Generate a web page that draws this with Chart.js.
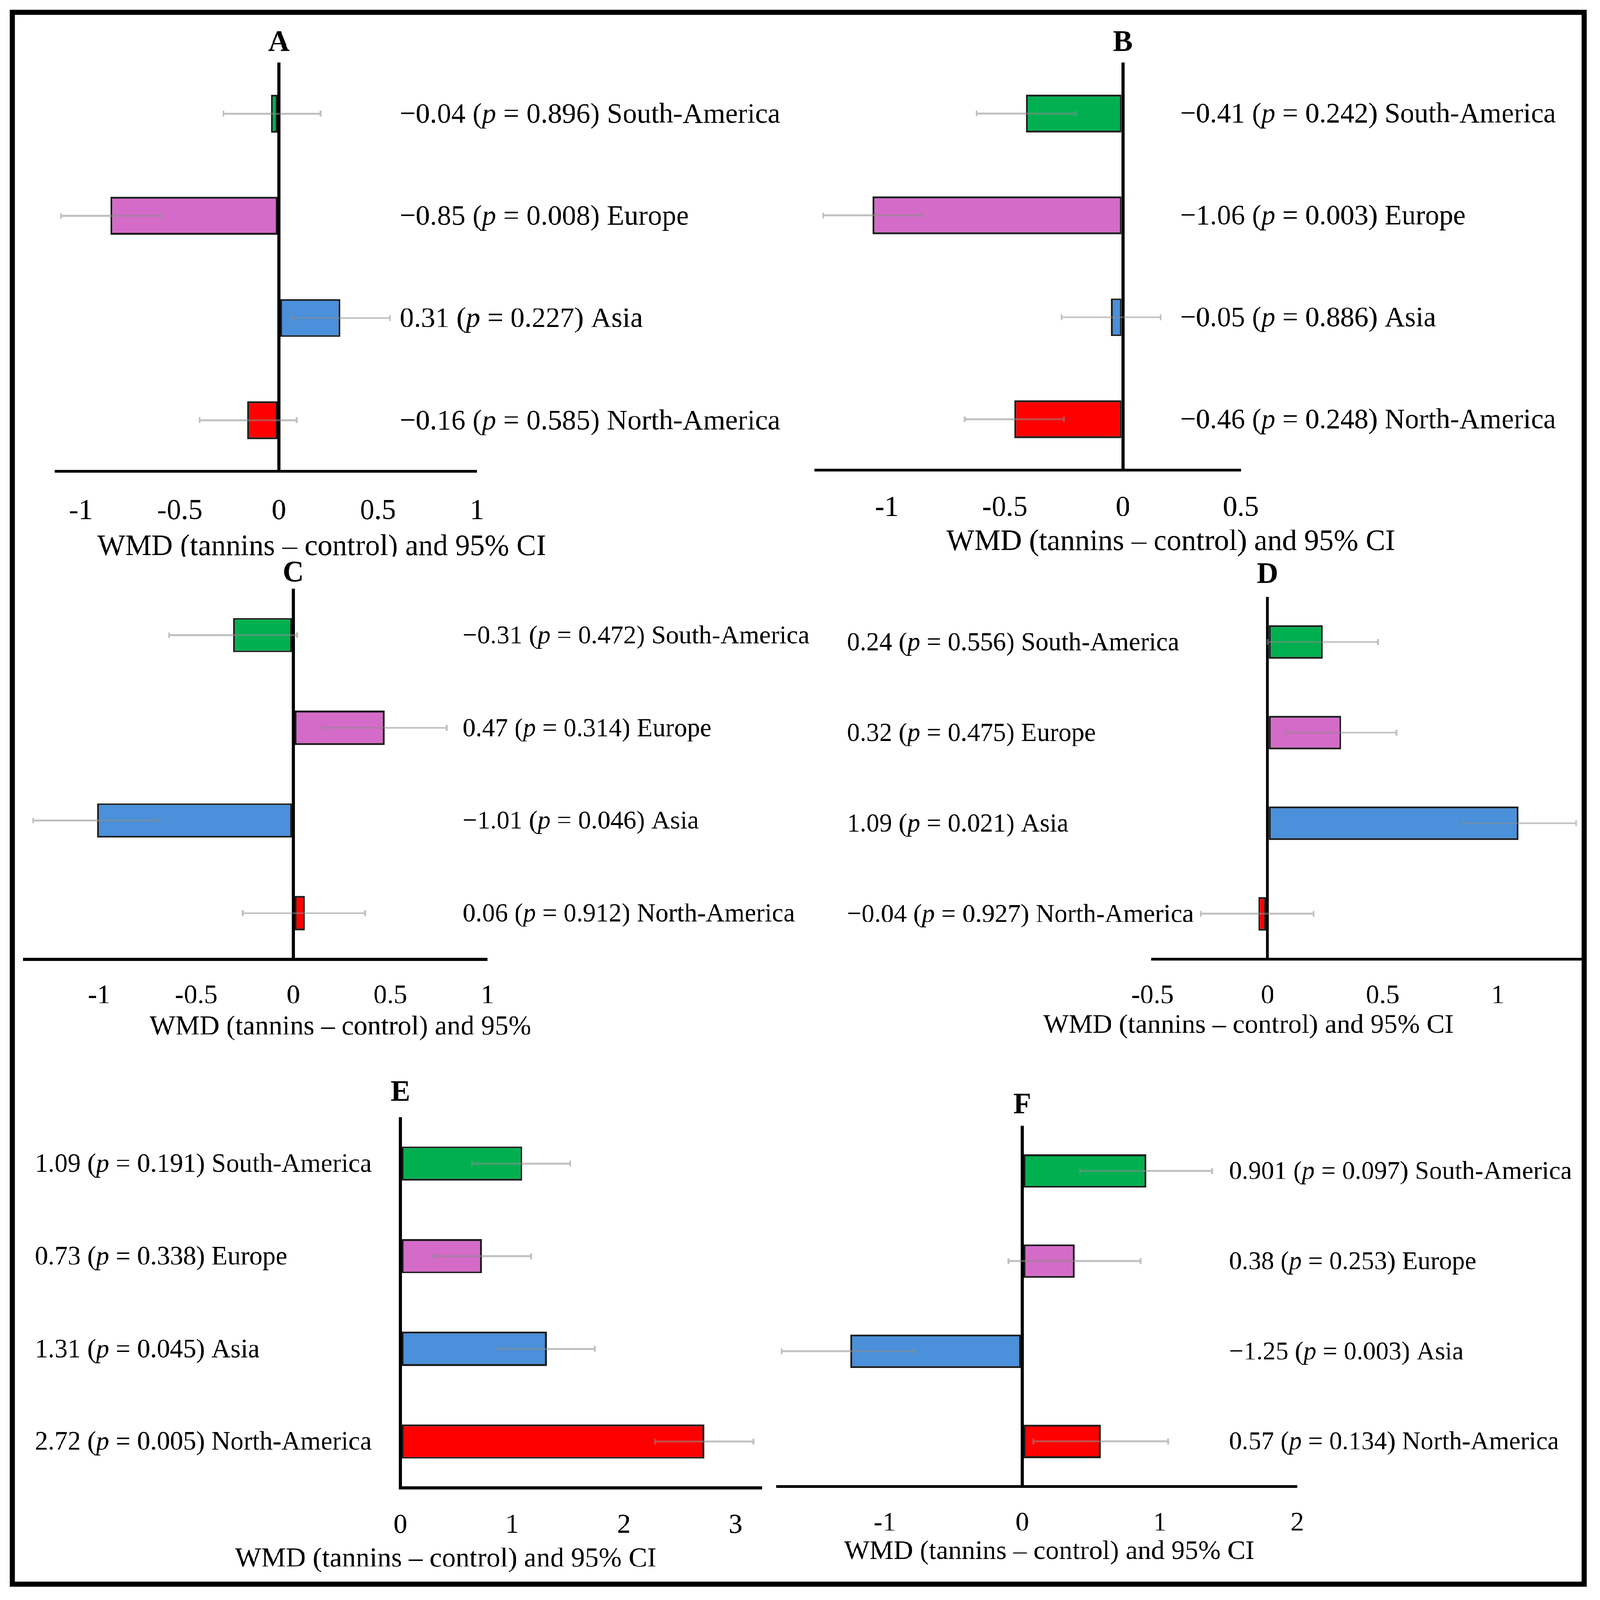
<!DOCTYPE html>
<html>
<head>
<meta charset="utf-8">
<script src="https://cdn.jsdelivr.net/npm/chart.js@4/dist/chart.umd.min.js"></script>
<style>
  html, body { margin: 0; padding: 0; background: #fff; overflow: hidden; }
  #page { position: absolute; left: 0; top: 0; width: 4446px; height: 4451px; transform-origin: 0 0; background: #fff; }
  canvas { position: absolute; }
  #frame { position: absolute; left: 27px; top: 27px; width: 4359px; height: 4359px;
           border: 14px solid #000; z-index: 5; pointer-events: none; }
</style>
</head>
<body>
<div id="page"><div id="frame"></div></div>
<script>
// categories, top to bottom
const regions = ['South-America', 'Europe', 'Asia', 'North-America'];
const regionColors = ['#00B050', '#D46BC8', '#4A90DA', '#FF0000'];

// WMD values, 95% CI and p values per panel
const wmdA = [-0.04, -0.85, 0.31, -0.16];
const loA  = [-0.28, -1.10, 0.07, -0.40];
const hiA  = [0.21, -0.60, 0.56, 0.09];
const pA   = ['0.896', '0.008', '0.227', '0.585'];

const wmdB = [-0.41, -1.06, -0.05, -0.46];
const loB  = [-0.62, -1.27, -0.26, -0.67];
const hiB  = [-0.20, -0.85, 0.16, -0.25];
const pB   = ['0.242', '0.003', '0.886', '0.248'];

const wmdC = [-0.31, 0.47, -1.01, 0.06];
const loC  = [-0.64, 0.15, -1.34, -0.26];
const hiC  = [0.02, 0.79, -0.69, 0.37];
const pC   = ['0.472', '0.314', '0.046', '0.912'];

const wmdD = [0.24, 0.32, 1.09, -0.04];
const loD  = [0.00, 0.08, 0.85, -0.29];
const hiD  = [0.48, 0.56, 1.34, 0.20];
const pD   = ['0.556', '0.475', '0.021', '0.927'];

const wmdE = [1.09, 0.73, 1.31, 2.72];
const loE  = [0.64, 0.29, 0.87, 2.28];
const hiE  = [1.52, 1.17, 1.74, 3.16];
const pE   = ['0.191', '0.338', '0.045', '0.005'];

const wmdF = [0.901, 0.38, -1.25, 0.57];
const loF  = [0.42, -0.10, -1.75, 0.08];
const hiF  = [1.38, 0.86, -0.78, 1.06];
const pF   = ['0.097', '0.253', '0.003', '0.134'];

const axisTitle = 'WMD (tannins \u2013 control) and 95% CI';
const axisTitleC = 'WMD (tannins \u2013 control) and 95%';

const FONT = '"Liberation Serif", "Times New Roman", serif';

// fit the 4446 x 4451 layout into whatever viewport we get
const page = document.getElementById('page');
const fit = Math.min(window.innerWidth / 4446, window.innerHeight / 4451) || 1;
page.style.transform = 'scale(' + fit + ')';

// layout in page pixels: canvas box, chart area, text anchors, font sizes
const panels = [
  { letter: 'A', wmd: wmdA, lo: loA, hi: hiA, p: pA, min: -1.125, max: 1, step: 0.5, title: axisTitle,
    box: [41, 41, 2300, 1549], area: [156, 174, 1327, 1311], tickPad: 64,
    letterY: 120, labelX: 1112, titleX: 895, titleY: 1522, labelSize: 79, titleSize: 82, tickSize: 80 },
  { letter: 'B', wmd: wmdB, lo: loB, hi: hiB, p: pB, min: -1.3, max: 0.5, step: 0.5, title: axisTitle,
    box: [2240, 41, 4400, 1600], area: [2270, 174, 3452, 1308], tickPad: 58,
    letterY: 120, labelX: 3283, titleX: 3257, titleY: 1508, labelSize: 78, titleSize: 82, tickSize: 80 },
  { letter: 'C', wmd: wmdC, lo: loC, hi: hiC, p: pC, min: -1.385, max: 1, step: 0.5, title: axisTitleC,
    box: [41, 1549, 2300, 3000], area: [68, 1638, 1356, 2669], tickPad: 57,
    letterY: 1596, labelX: 1287, titleX: 947, titleY: 2858, labelSize: 72, titleSize: 76, tickSize: 75 },
  { letter: 'D', wmd: wmdD, lo: loD, hi: hiD, p: pD, min: -0.5, max: 1.38, step: 0.5, title: axisTitle,
    box: [2240, 1549, 4414, 3000], area: [3206, 1660, 4410, 2668], tickPad: 58,
    letterY: 1600, labelX: 2356, titleX: 3473, titleY: 2853, labelSize: 72, titleSize: 75, tickSize: 75 },
  { letter: 'E', wmd: wmdE, lo: loE, hi: hiE, p: pE, min: 0, max: 3.225, step: 1, title: axisTitle,
    box: [41, 2990, 2140, 4400], area: [1114, 3108, 2116, 4139], tickPad: 59,
    letterY: 3041, labelX: 97, titleX: 1240, titleY: 4338, labelSize: 73, titleSize: 77, tickSize: 76 },
  { letter: 'F', wmd: wmdF, lo: loF, hi: hiF, p: pF, min: -1.78, max: 2, step: 1, title: axisTitle,
    box: [2140, 2990, 4400, 4400], area: [2163, 3132, 3609, 4135], tickPad: 58,
    letterY: 3076, labelX: 3419, titleX: 2919, titleY: 4317, labelSize: 71.5, titleSize: 75, tickSize: 75 }
];

const fmt = v => String(v).replace('-', '\u2212');

const forestExtras = {
  id: 'forestExtras',
  afterDatasetsDraw(chart) {
    const o = chart.options.plugins.forestExtras;
    const { ctx, scales: { x, y } } = chart;
    ctx.save();
    ctx.strokeStyle = 'rgba(140,140,140,0.55)';
    ctx.lineWidth = 5;
    ctx.beginPath();
    o.lo.forEach((lo, i) => {
      const py = y.getPixelForValue(i);
      const x1 = x.getPixelForValue(lo);
      const x2 = x.getPixelForValue(o.hi[i]);
      ctx.moveTo(x1, py); ctx.lineTo(x2, py);
      ctx.moveTo(x1, py - 8); ctx.lineTo(x1, py + 8);
      ctx.moveTo(x2, py - 8); ctx.lineTo(x2, py + 8);
    });
    ctx.stroke();
    ctx.restore();
  },
  afterDraw(chart) {
    const o = chart.options.plugins.forestExtras;
    const { ctx, scales: { x, y } } = chart;
    const [bx, by] = o.box;
    ctx.save();
    ctx.fillStyle = '#000';
    ctx.textBaseline = 'middle';

    // panel letter above the zero line
    ctx.textAlign = 'center';
    ctx.font = 'bold 82px ' + FONT;
    ctx.fillText(o.letter, x.getPixelForValue(0), o.letterY - by);

    // axis title
    ctx.font = o.titleSize + 'px ' + FONT;
    ctx.fillText(o.title, o.titleX - bx, o.titleY - by);

    // value labels
    ctx.textAlign = 'left';
    o.wmd.forEach((v, i) => {
      const py = y.getPixelForValue(i) + 4;
      let px = o.labelX - bx;
      const parts = [[fmt(v) + ' (', ''], ['p', 'italic '], [' = ' + o.p[i] + ') ' + regions[i], '']];
      parts.forEach(([t, style]) => {
        ctx.font = style + o.labelSize + 'px ' + FONT;
        ctx.fillText(t, px, py);
        px += ctx.measureText(t).width;
      });
    });
    ctx.restore();
  }
};

panels.forEach(pn => {
  const [bl, bt, br, bb] = pn.box;
  const [al, at, ar, ab] = pn.area;
  const axisH = pn.tickPad + 100;
  const canvas = document.createElement('canvas');
  canvas.width = br - bl;
  canvas.height = bb - bt;
  canvas.style.left = bl + 'px';
  canvas.style.top = bt + 'px';
  page.appendChild(canvas);

  new Chart(canvas, {
    type: 'bar',
    data: {
      labels: regions,
      datasets: [{
        data: pn.wmd,
        backgroundColor: regionColors,
        borderColor: '#1c1c1c',
        borderWidth: 5,
        borderSkipped: false,
        barPercentage: 0.37,
        categoryPercentage: 1
      }]
    },
    options: {
      indexAxis: 'y',
      responsive: false,
      animation: false,
      layout: {
        padding: { left: al - bl, top: at - bt, right: br - ar, bottom: bb - ab - axisH }
      },
      plugins: {
        legend: { display: false },
        tooltip: { enabled: false },
        forestExtras: {
          letter: pn.letter, lo: pn.lo, hi: pn.hi, wmd: pn.wmd, p: pn.p, title: pn.title,
          box: pn.box, letterY: pn.letterY, labelX: pn.labelX, titleX: pn.titleX, titleY: pn.titleY,
          labelSize: pn.labelSize, titleSize: pn.titleSize
        }
      },
      scales: {
        x: {
          type: 'linear',
          position: 'bottom',
          min: pn.min,
          max: pn.max,
          afterFit: s => { s.height = axisH; },
          ticks: {
            stepSize: pn.step,
            includeBounds: false,
            padding: pn.tickPad,
            color: '#000',
            font: { family: FONT, size: pn.tickSize },
            callback: v => String(Math.round(v * 10) / 10)
          },
          grid: {
            drawTicks: false,
            color: c => (c.tick && c.tick.value === 0 ? '#000' : 'rgba(0,0,0,0)'),
            lineWidth: c => (c.tick && c.tick.value === 0 ? 8 : 0)
          },
          border: { display: true, color: '#000', width: 8 }
        },
        y: { display: false }
      }
    },
    plugins: [forestExtras]
  });
});
</script>
</body>
</html>
